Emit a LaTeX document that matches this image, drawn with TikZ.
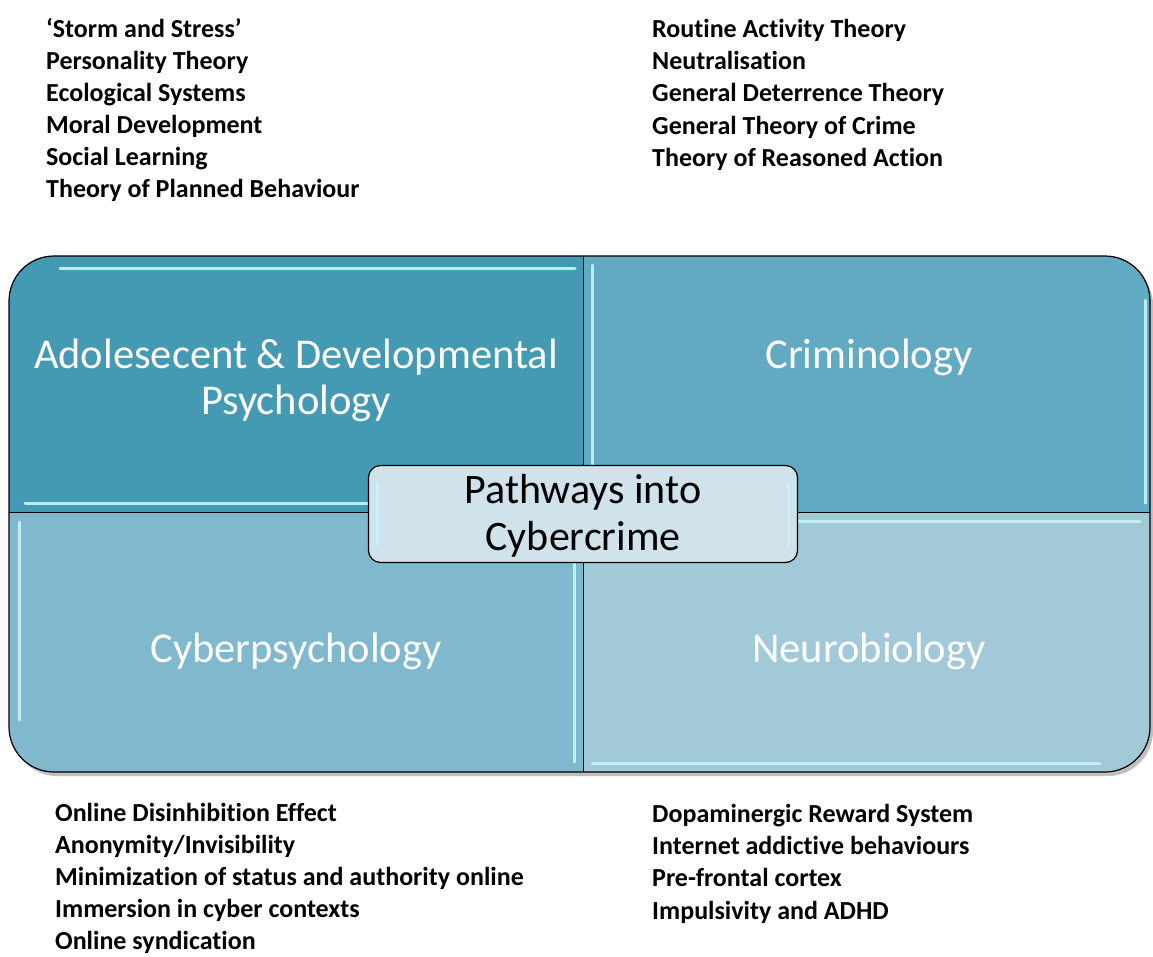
\documentclass[tikz,border=0pt]{standalone}
\usepackage{fontspec}
\setmainfont{Carlito}[Ligatures=NoCommon]
\usetikzlibrary{positioning}

\definecolor{quadA}{RGB}{68,153,179}
\definecolor{quadB}{RGB}{98,169,194}
\definecolor{quadC}{RGB}{128,184,205}
\definecolor{quadD}{RGB}{162,201,216}
\definecolor{hubfill}{RGB}{208,226,234}
\definecolor{gloss}{RGB}{200,244,250}

\tikzset{
  quadlabel/.style={text=white, align=center, font=\fontsize{42.5}{47}\selectfont, inner sep=0pt},
  hub/.style={draw=black, line width=1.2pt, fill=hubfill, rounded corners=12pt,
    minimum width=429pt, minimum height=97pt, inner sep=0pt},
  hubtext/.style={anchor=base, font=\fontsize{42}{46}\selectfont, inner sep=0pt},
  item/.style={anchor=base west, font=\bfseries\fontsize{26}{30}\selectfont, inner sep=0pt},
  shine/.style={gloss, line width=3pt, line cap=round, opacity=0.9}
}

\begin{document}
\begin{tikzpicture}[x=1pt,y=-1pt]
  \useasboundingbox (0,0) rectangle (1153,956);

  % shadow and quadrants
  \fill[black!25, rounded corners=45pt] (12,260) rectangle (1153,776);
  \begin{scope}
    \clip[rounded corners=45pt] (9,256) rectangle (1150,772);
    \fill[quadA] (9,256) rectangle (583,512);
    \fill[quadB] (583,256) rectangle (1150,512);
    \fill[quadC] (9,512) rectangle (583,772);
    \fill[quadD] (583,512) rectangle (1150,772);
  \end{scope}

  % glossy edges
  \draw[shine] (60,268) -- (575,268);
  \draw[shine] (25,503) -- (575,503);
  \draw[shine] (592,265) -- (592,503);
  \draw[shine] (1145,300) -- (1145,503);
  \draw[shine] (19,522) -- (19,720);
  \draw[shine] (574,522) -- (574,762);
  \draw[shine] (592,521) -- (1140,521);
  \draw[shine] (592,763) -- (1100,763);

  \draw[line width=1.2pt, rounded corners=45pt] (9,256) rectangle (1150,772);
  \draw[line width=1pt] (583,256) -- (583,772);
  \draw[line width=1pt] (9,512) -- (1150,512);

  \node[quadlabel, anchor=base] (adol) at (296,368) {Adolesecent \& Developmental};
  \node[quadlabel, anchor=base] (adolb) at (296,414) {Psychology};
  \node[quadlabel, anchor=base] (crim) at (869,368) {Criminology};
  \node[quadlabel, anchor=base] (cyber) at (296,662) {Cyberpsychology};
  \node[quadlabel, anchor=base] (neuro) at (869,662) {Neurobiology};

  \node[hub] (hub) at (583,514) {};
  \node[hubtext] (hubA) at (583,503) {Pathways into};
  \node[hubtext] (hubB) at (583,550) {Cybercrime};
  \draw[shine] ([xshift=10pt,yshift=-18pt]hub.north west) -- ([xshift=10pt,yshift=18pt]hub.south west);
  \draw[shine] ([xshift=-10pt,yshift=-18pt]hub.north east) -- ([xshift=-10pt,yshift=18pt]hub.south east);

  % theory lists
  \foreach \txt [count=\i] in {`Storm and Stress',Personality Theory,Ecological Systems,
      Moral Development,Social Learning,Theory of Planned Behaviour}
    \node[item] (adol\i) at (46,{5+32*\i}) {\txt};
  \foreach \txt [count=\i] in {Routine Activity Theory,Neutralisation,General Deterrence Theory,
      General Theory of Crime,Theory of Reasoned Action}
    \node[item] (crim\i) at (652,{5+32.3*\i}) {\txt};
  \foreach \txt [count=\i] in {Online Disinhibition Effect,Anonymity/Invisibility,
      Minimization of status and authority online,Immersion in cyber contexts,Online syndication}
    \node[item] (cyber\i) at (55,{790+31.8*\i}) {\txt};
  \foreach \txt [count=\i] in {Dopaminergic Reward System,Internet addictive behaviours,
      Pre-frontal cortex,Impulsivity and ADHD}
    \node[item] (neuro\i) at (652,{790+32.3*\i}) {\txt};
\end{tikzpicture}
\end{document}
